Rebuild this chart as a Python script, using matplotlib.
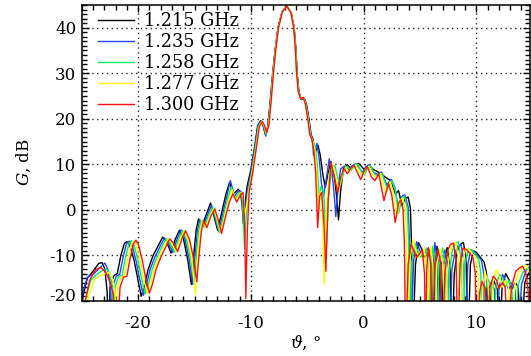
import matplotlib
matplotlib.use("Agg")
import matplotlib.pyplot as plt
import matplotlib.transforms as mtransforms
from matplotlib.ticker import MultipleLocator
import numpy as np

plt.rcParams['font.family'] = ['DejaVu Serif']
plt.rcParams['mathtext.fontset'] = 'dejavuserif'
plt.rcParams['axes.unicode_minus'] = False

labels = ["1.215 GHz", "1.235 GHz", "1.258 GHz", "1.277 GHz", "1.300 GHz"]
colors = ["#000000", "#2244ff", "#00f060", "#ffff00", "#ff1010"]

# (angle deg, gain dB), one list per frequency
trace_1215 = [
    (-25.3, -30), (-24.9, -19), (-24.5, -15), (-24.0, -13.5), (-23.5, -11.8), (-23.2, -11.6),
    (-22.95, -13), (-22.75, -18), (-22.6, -30),
    (-22.49, -17), (-22.17, -14.5), (-21.85, -14), (-21.53, -10), (-21.22, -7.4), (-21.0, -7.0),
    (-20.74, -7.8), (-20.37, -11), (-20.05, -15), (-19.73, -19), (-19.47, -17), (-19.1, -13),
    (-18.67, -10), (-18.25, -8), (-17.82, -6.0), (-17.51, -6.8), (-17.08, -9.5), (-16.71, -6.5),
    (-16.34, -4.5), (-15.97, -6.5), (-15.6, -11), (-15.28, -16.4), (-15.07, -10), (-14.86, -4.5),
    (-14.64, -2.0), (-14.33, -3.5), (-13.96, -1.0), (-13.58, 1.5), (-13.27, -1.5), (-12.95, -4.5),
    (-12.63, -1.0), (-12.21, 3.5), (-11.89, 6.0), (-11.52, 3.5), (-11.15, 4.5), (-10.93, 4.0),
    (-10.78, 1.0), (-10.67, -3.0), (-10.53, 1.0), (-10.35, 5.0), (-10.03, 8.5), (-9.72, 13),
    (-9.4, 18.5), (-9.13, 19.6), (-8.92, 18.5), (-8.71, 16.5), (-8.5, 18.4), (-8.28, 24),
    (-8.07, 30), (-7.86, 35), (-7.6, 40), (-7.22, 43.6), (-6.8, 44.7), (-6.43, 43.3), (-6.16, 40),
    (-6.0, 35), (-5.9, 30), (-5.74, 26), (-5.53, 24.2), (-5.26, 24.5), (-5.05, 23), (-4.85, 20),
    (-4.66, 16.5), (-4.47, 15.4),
    (-4.4, 12.5), (-4.25, 12.8), (-4.05, 14.2), (-3.85, 12), (-3.6, 7.5), (-3.4, 5), (-3.15, 8),
    (-2.9, 10.6), (-2.6, 7.5), (-2.4, 3), (-2.23, -2.2), (-2.05, 4), (-1.8, 9.0), (-1.45, 9.9),
    (-1.1, 9.0), (-0.8, 9.6), (-0.45, 10.2), (-0.15, 9.4), (0.15, 8.6), (0.47, 9.7), (0.85, 8.9),
    (1.35, 8.2), (1.8, 7.4), (2.4, 6.4), (2.8, 3.5), (3.1, 4.2), (3.4, 0.9), (3.7, 2.5),
    (3.95, 2.8), (4.15, 0.3), (4.25, -8), (4.35, -30),
    (4.6, -12), (4.86, -7.2), (5.13, -8.5), (5.39, -10.5), (5.71, -9.5), (5.92, -8.7), (6.13, -14),
    (6.24, -30), (6.34, -13), (6.5, -8.0), (6.72, -12), (6.87, -30), (7.09, -12), (7.4, -8.3),
    (7.67, -12), (7.83, -30), (8.04, -14), (8.31, -9), (8.57, -7.6), (8.85, -7.2), (9.1, -11),
    (9.26, -30), (9.47, -12), (9.74, -9.0), (10.05, -9.5), (10.37, -10.5), (10.69, -11.5),
    (10.9, -14), (11.01, -30), (11.33, -18), (11.54, -15.5), (11.86, -17.5), (12.07, -30),
    (12.28, -17), (12.6, -14.0), (12.92, -15.5), (13.13, -17.5), (13.45, -16), (13.71, -17),
    (13.98, -30), (14.29, -16), (14.72, -13.5), (15.04, -12.8),
]

trace_1235 = [
    (-25.3, -24), (-24.9, -18), (-24.5, -14.8), (-24.0, -14.2), (-23.5, -13), (-22.95, -11.7),
    (-22.7, -13), (-22.45, -17), (-22.3, -30),
    (-22.27, -17), (-21.95, -14.6), (-21.64, -14.2), (-21.32, -10.2), (-21.02, -7.3), (-20.8, -6.9),
    (-20.54, -7.8), (-20.18, -11.3), (-19.86, -15.3), (-19.55, -18.8), (-19.29, -16.8), (-18.93, -13),
    (-18.5, -10.3), (-18.09, -8.2), (-17.67, -6.2), (-17.36, -7.0), (-16.94, -9.4), (-16.57, -6.6),
    (-16.21, -4.4), (-15.84, -6.5), (-15.48, -10.8), (-15.16, -16.4), (-14.95, -10), (-14.75, -4.6),
    (-14.53, -2.2), (-14.22, -3.7), (-13.86, -1.2), (-13.49, 1.0), (-13.18, -1.8), (-12.86, -4.8),
    (-12.55, -1.5), (-12.13, 3.0), (-11.82, 6.4), (-11.45, 3.0), (-11.09, 4.2), (-10.87, 4.0),
    (-10.72, 1.5), (-10.62, -2.0), (-10.48, 1.0), (-10.3, 4.5), (-9.99, 8.3), (-9.68, 13),
    (-9.36, 18.5), (-9.1, 19.5), (-8.89, 18.4), (-8.68, 16.2), (-8.48, 18.4), (-8.26, 24),
    (-8.05, 30), (-7.85, 35), (-7.59, 40), (-7.22, 43.6), (-6.8, 44.7), (-6.44, 43.3), (-6.17, 40),
    (-6.01, 35), (-5.91, 30), (-5.76, 26), (-5.55, 24.3), (-5.28, 24.6), (-5.08, 23), (-4.88, 20),
    (-4.69, 16.5), (-4.5, 14.5),
    (-4.45, 12), (-4.3, 13), (-4.14, 14.6), (-3.95, 11.5), (-3.75, 6), (-3.55, 3), (-3.3, 7),
    (-3.05, 11.2), (-2.8, 8), (-2.6, 3), (-2.47, -1.5), (-2.3, 4), (-2.05, 9.0), (-1.7, 9.6),
    (-1.35, 8.8), (-1.0, 9.7), (-0.7, 10.1), (-0.4, 9.2), (-0.1, 8.2), (0.2, 9.5), (0.5, 9.9),
    (0.9, 8.2), (1.2, 7.8), (1.6, 8.3), (2.05, 5.5), (2.45, 6.7), (2.75, 5.0), (3.1, 0.2),
    (3.4, 3.0), (3.65, 3.3), (3.95, 0.6), (4.08, -8), (4.18, -30),
    (4.44, -11), (4.7, -7.0), (4.96, -8.8), (5.22, -10.2), (5.53, -9.2), (5.74, -8.4), (5.95, -13),
    (6.05, -30), (6.16, -13), (6.31, -7.2), (6.53, -11), (6.68, -30), (6.89, -12), (7.2, -8.8),
    (7.46, -12), (7.62, -30), (7.83, -13), (8.09, -9.5), (8.35, -8.0), (8.63, -7.6), (8.88, -11),
    (9.03, -30), (9.24, -12), (9.5, -8.8), (9.82, -9.2), (10.13, -10.2), (10.44, -11),
    (10.65, -14), (10.76, -30), (11.07, -18), (11.28, -16), (11.6, -17.5), (11.8, -30),
    (12.01, -17), (12.32, -14.2), (12.64, -15.8), (12.85, -17.5), (13.16, -16), (13.42, -17.5),
    (13.68, -30), (14.0, -16.5), (14.42, -13.2), (14.73, -12.5), (15.04, -12.6),
]

trace_1258 = [
    (-25.1, -30), (-24.6, -19), (-24.2, -15.5), (-23.7, -14.2), (-23.2, -13.4), (-22.8, -13),
    (-22.5, -14), (-22.3, -17), (-22.15, -30),
    (-22.05, -17), (-21.74, -14.7), (-21.43, -14.4), (-21.12, -10.4), (-20.81, -7.4), (-20.6, -6.8),
    (-20.35, -7.9), (-19.99, -11.4), (-19.68, -15.4), (-19.37, -18.5), (-19.11, -16.6), (-18.75, -13),
    (-18.34, -10.4), (-17.93, -8.3), (-17.51, -6.3), (-17.21, -7.1), (-16.79, -9.3), (-16.43, -6.6),
    (-16.07, -4.5), (-15.71, -6.5), (-15.35, -10.6), (-15.04, -16), (-14.84, -10), (-14.63, -4.7),
    (-14.42, -2.3), (-14.12, -3.8), (-13.76, -1.3), (-13.39, 0.6), (-13.09, -2.0), (-12.78, -5.0),
    (-12.47, -1.8), (-12.06, 2.5), (-11.75, 5.0), (-11.39, 2.5), (-11.03, 3.8), (-10.82, 3.8),
    (-10.67, -2.0), (-10.56, -8.6), (-10.43, -2.0), (-10.25, 4.0), (-9.94, 8.1), (-9.64, 13),
    (-9.33, 18.4), (-9.07, 19.4), (-8.86, 18.5), (-8.66, 16.6), (-8.45, 18.5), (-8.24, 24),
    (-8.04, 30), (-7.83, 35), (-7.58, 40), (-7.21, 43.6), (-6.8, 44.7), (-6.44, 43.3), (-6.18, 40),
    (-6.03, 35), (-5.93, 30), (-5.77, 26), (-5.57, 24.4), (-5.31, 24.6), (-5.1, 23), (-4.91, 20),
    (-4.72, 16.5), (-4.54, 15.4),
    (-4.3, 14), (-4.12, 10), (-3.95, 2), (-3.8, 5), (-3.55, 4), (-3.3, -8), (-3.1, 3), (-2.85, 9.5),
    (-2.55, 9.7), (-2.3, 7), (-2.05, 5.5), (-1.75, 8.5), (-1.45, 9.6), (-1.15, 8.6), (-0.85, 9.4),
    (-0.55, 10.0), (-0.25, 8.6), (0.05, 7.6), (0.35, 9.2), (0.6, 9.7), (1.0, 7.8), (1.3, 7.4),
    (1.65, 8.0), (2.1, 4.5), (2.5, 6.4), (2.8, 4.5), (3.1, -0.8), (3.4, 2.6), (3.62, 3.0),
    (3.88, 0.4), (4.0, -8), (4.1, -30),
    (4.27, -11.5), (4.53, -7.4), (4.79, -9.0), (5.05, -10.4), (5.35, -9.4), (5.56, -8.5), (5.77, -13.5),
    (5.87, -30), (5.97, -13), (6.13, -8.0), (6.33, -11.5), (6.49, -30), (6.69, -12), (7.0, -8.4),
    (7.26, -12), (7.41, -30), (7.62, -13.5), (7.88, -8.8), (8.14, -7.4), (8.4, -7.0), (8.65, -11),
    (8.8, -30), (9.01, -12), (9.27, -8.6), (9.58, -8.8), (9.89, -9.8), (10.2, -10.8),
    (10.4, -14), (10.5, -30), (10.81, -17.5), (11.02, -15.2), (11.33, -17), (11.53, -30),
    (11.74, -16.5), (12.05, -14.2), (12.36, -15.2), (12.56, -17), (12.87, -15.5), (13.13, -16.8),
    (13.39, -30), (13.7, -16.5), (14.11, -13.8), (14.42, -13.0), (14.73, -12.8), (15.04, -14),
]

trace_1277 = [
    (-24.9, -30), (-24.4, -19), (-23.9, -15.5), (-23.4, -14.5), (-22.9, -14), (-22.6, -13.8),
    (-22.3, -15), (-22.05, -18), (-21.95, -30),
    (-21.82, -17), (-21.52, -14.8), (-21.21, -14.5), (-20.91, -10.5), (-20.61, -7.5), (-20.4, -6.9),
    (-20.15, -8.0), (-19.79, -11.5), (-19.49, -15.5), (-19.18, -18.4), (-18.93, -16.5), (-18.58, -13),
    (-18.17, -10.5), (-17.76, -8.4), (-17.36, -6.4), (-17.05, -7.2), (-16.65, -9.2), (-16.29, -6.6),
    (-15.94, -4.6), (-15.58, -6.5), (-15.23, -11), (-14.92, -18.6), (-14.72, -10), (-14.52, -4.8),
    (-14.31, -2.4), (-14.01, -3.9), (-13.65, -1.4), (-13.3, 0.3), (-12.99, -2.1), (-12.69, -5.1),
    (-12.38, -2.0), (-11.98, 2.2), (-11.67, 4.5), (-11.32, 2.0), (-10.96, 3.6), (-10.76, 3.8),
    (-10.61, 1.0), (-10.51, -1.0), (-10.37, 1.0), (-10.2, 4.0), (-9.9, 8.0), (-9.59, 13),
    (-9.29, 18.3), (-9.03, 19.4), (-8.83, 18.6), (-8.63, 16.8), (-8.43, 18.6), (-8.22, 24),
    (-8.02, 30), (-7.82, 35), (-7.56, 40), (-7.21, 43.6), (-6.8, 44.7), (-6.45, 43.3), (-6.19, 40),
    (-6.04, 35), (-5.94, 30), (-5.79, 26), (-5.58, 24.4), (-5.33, 24.7), (-5.13, 23), (-4.93, 20),
    (-4.75, 16.5), (-4.57, 15.5),
    (-4.35, 13.5), (-4.18, 9), (-4.0, 0), (-3.85, 4), (-3.7, 2), (-3.5, -16.3), (-3.3, 0), (-3.05, 8),
    (-2.8, 10.2), (-2.5, 7.5), (-2.2, 4.5), (-1.9, 8), (-1.6, 9.4), (-1.3, 8.3), (-1.0, 9.3),
    (-0.7, 9.9), (-0.4, 8.4), (-0.1, 7.2), (0.2, 9), (0.45, 9.6), (0.85, 7.6), (1.15, 7.0),
    (1.5, 8.0), (1.95, 3.5), (2.35, 6.2), (2.65, 3.8), (2.95, -1.5), (3.25, 2.2), (3.45, 2.6),
    (3.7, 0.2), (3.82, -8), (3.92, -30),
    (4.11, -11), (4.37, -6.5), (4.62, -8.8), (4.87, -10.5), (5.18, -9.5), (5.38, -8.6), (5.58, -14),
    (5.68, -30), (5.79, -13), (5.94, -8.2), (6.14, -12), (6.29, -30), (6.5, -12), (6.8, -8.5),
    (7.05, -12), (7.21, -30), (7.41, -14), (7.66, -9), (7.92, -7.6), (8.18, -7.2), (8.43, -11),
    (8.58, -30), (8.78, -12), (9.03, -8.5), (9.34, -8.7), (9.64, -9.6), (9.95, -10.5),
    (10.15, -14), (10.25, -30), (10.56, -17), (10.76, -13.5), (11.06, -16.5), (11.27, -30),
    (11.47, -16), (11.77, -13.2), (12.08, -15.0), (12.28, -17), (12.59, -15.5), (12.84, -17),
    (13.09, -30), (13.4, -16.5), (13.8, -13.4), (14.11, -12.5), (14.42, -12.2), (14.72, -13.8),
    (14.92, -18), (15.13, -30),
]

trace_1300 = [
    (-25.3, -30), (-24.7, -20), (-24.3, -15.5), (-23.8, -13.2), (-23.3, -12.7), (-22.9, -13.6),
    (-22.5, -15.8), (-22.2, -18.5), (-21.95, -30),
    (-21.6, -17), (-21.3, -14.8), (-21.0, -14.6), (-20.7, -10.5), (-20.4, -7.4), (-20.2, -6.7),
    (-19.95, -7.8), (-19.6, -11.5), (-19.3, -15.5), (-19.0, -18.3), (-18.75, -16.5), (-18.4, -13),
    (-18.0, -10.5), (-17.6, -8.4), (-17.2, -6.4), (-16.9, -7.2), (-16.5, -9.2), (-16.15, -6.6),
    (-15.8, -4.6), (-15.45, -6.5), (-15.1, -10.5), (-14.8, -15.8), (-14.6, -10), (-14.4, -4.8),
    (-14.2, -2.4), (-13.9, -3.9), (-13.55, -1.4), (-13.2, 0.2), (-12.9, -2.2), (-12.6, -5.2),
    (-12.3, -2.0), (-11.9, 1.8), (-11.6, 3.5), (-11.25, 1.7), (-10.9, 3.4), (-10.7, 3.8),
    (-10.55, -4), (-10.45, -19.5), (-10.32, -5), (-10.15, 4), (-9.85, 8), (-9.55, 13),
    (-9.25, 18.3), (-9.0, 19.4), (-8.8, 18.6), (-8.6, 16.9), (-8.4, 18.6), (-8.2, 24),
    (-8.0, 30), (-7.8, 35), (-7.55, 40), (-7.2, 43.6), (-6.8, 44.7), (-6.45, 43.3), (-6.2, 40),
    (-6.05, 35), (-5.95, 30), (-5.8, 26), (-5.6, 24.4), (-5.35, 24.7), (-5.15, 23), (-4.96, 20),
    (-4.78, 16.5), (-4.6, 15.6),
    (-4.42, 13), (-4.25, 8), (-4.08, -3.9), (-3.9, 3), (-3.72, 3.8), (-3.5, -4), (-3.35, -13.5),
    (-3.15, 2), (-2.9, 10.4), (-2.6, 7.2), (-2.3, 3.8), (-2.0, 7.5), (-1.73, 9.0), (-1.44, 7.9),
    (-1.1, 9.2), (-0.85, 9.7), (-0.55, 8.2), (-0.26, 6.6), (0.05, 8.5), (0.33, 9.5), (0.7, 7.2),
    (1.0, 6.4), (1.35, 7.9), (1.8, 2.0), (2.2, 5.8), (2.5, 3.2), (2.8, -2.8), (3.1, 1.5),
    (3.3, 2.2), (3.5, 0), (3.62, -8), (3.72, -30),
    (3.95, -12), (4.2, -7.6), (4.45, -9), (4.7, -10.5), (5.0, -9.5), (5.2, -8.7), (5.4, -14),
    (5.5, -30), (5.6, -13), (5.75, -8.3), (5.95, -12), (6.1, -30), (6.3, -12), (6.6, -8.6),
    (6.85, -12), (7.0, -30), (7.2, -14), (7.45, -9), (7.7, -7.6), (7.96, -7.3), (8.2, -11),
    (8.35, -30), (8.55, -12), (8.8, -8.5), (9.1, -8.7), (9.4, -9.6), (9.7, -10.5), (9.9, -14),
    (10.0, -30), (10.3, -18), (10.5, -15.7), (10.8, -17.5), (11.0, -30), (11.2, -17),
    (11.5, -14.6), (11.8, -15.5), (12.0, -17.3), (12.3, -16), (12.55, -17), (12.8, -30),
    (13.1, -17), (13.5, -13.5), (13.8, -12.8), (14.1, -12.4), (14.4, -14), (14.6, -18),
    (14.8, -30), (15.2, -16),
]

traces = [trace_1215, trace_1235, trace_1258, trace_1277, trace_1300]

fig = plt.figure(figsize=(5.31, 3.56), dpi=100)
ax = fig.add_axes([0.154, 0.155, 0.844, 0.831])

for tr, c, lab in zip(traces, colors, labels):
    a = np.array(tr)
    ax.plot(a[:, 0], a[:, 1], color=c, lw=1.0, label=lab)

ax.set_xlim(-25, 14.75)
ax.set_ylim(-20, 45)
ax.xaxis.set_major_locator(MultipleLocator(10))
ax.xaxis.set_minor_locator(MultipleLocator(1))
ax.yaxis.set_major_locator(MultipleLocator(10))
ax.yaxis.set_minor_locator(MultipleLocator(1))
ax.tick_params(which='both', direction='in', top=True, right=True, labelsize=12)
ax.tick_params(which='major', length=5, width=1)
ax.tick_params(which='minor', length=3.5, width=1)
ax.tick_params(axis='x', pad=10)
ax.tick_params(axis='y', pad=4)
for s in ax.spines.values():
    s.set_linewidth(1.1)

ax.grid(True, which='major', color='0.15', lw=1.0, ls=(0, (1, 2.5)))

# lowest y label sits a bit above its tick
fig.canvas.draw()
for t in ax.get_yticklabels():
    if t.get_text() == '-20':
        t.set_transform(t.get_transform() + mtransforms.ScaledTranslation(0, 6 / 100, fig.dpi_scale_trans))

ax.set_xlabel(r'$\vartheta$, °', fontsize=12)
ax.xaxis.set_label_coords(0.5, -0.112)
ax.set_ylabel(r'$G$, dB', fontsize=12)
ax.yaxis.set_label_coords(-0.108, 0.47)

ax.legend(loc='upper left', bbox_to_anchor=(0.037, 0.975), frameon=False, fontsize=12.7,
          borderpad=0, borderaxespad=0, handlelength=2.0, handletextpad=0.6, labelspacing=0.17)

fig.savefig("out.png", dpi=100)
